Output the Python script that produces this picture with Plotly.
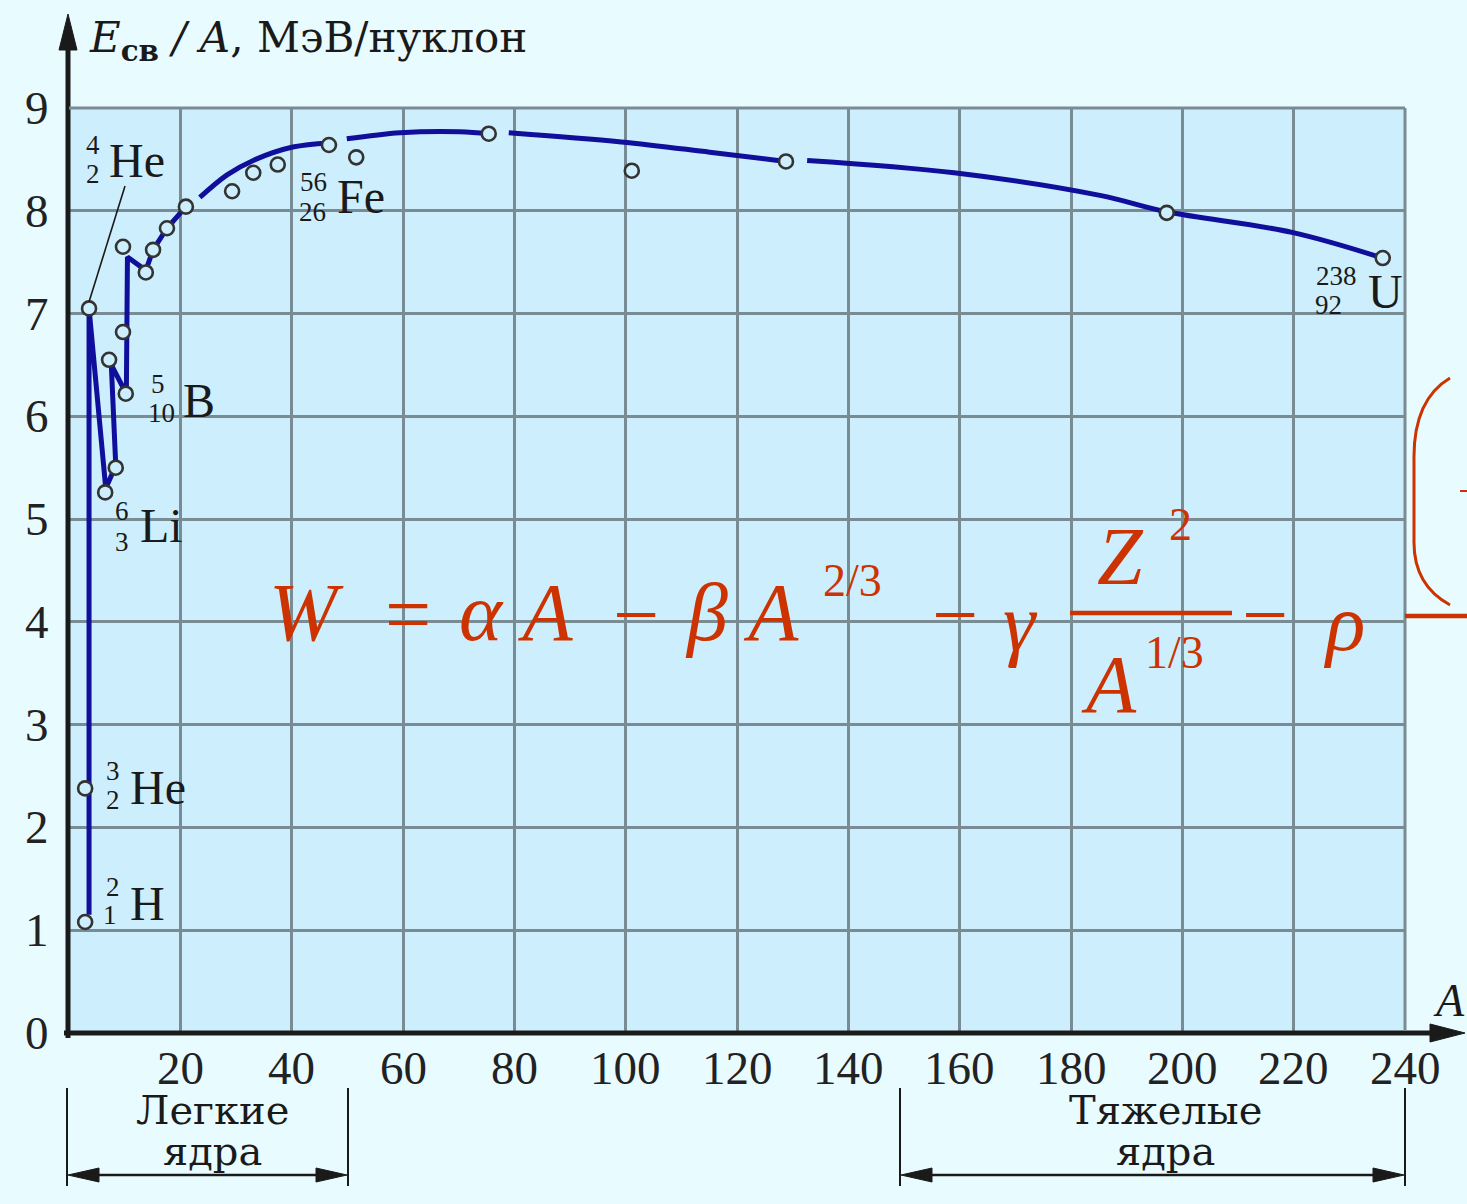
import plotly.graph_objects as go

# ---------------- data ----------------
# measured nuclei (open circles): mass number A, binding energy per nucleon (MeV)
point_A = [2.9, 2.9, 3.6, 6.5, 8.4, 7.2, 9.7, 10.2, 9.7, 13.8, 15.1, 17.6, 21.0,
           29.3, 33.1, 37.5, 46.7, 51.6, 75.4, 101.1, 128.8, 197.2, 236.0]
point_E = [1.08, 2.38, 7.05, 5.26, 5.50, 6.55, 6.82, 6.22, 7.65, 7.40, 7.62, 7.83, 8.04,
           8.19, 8.37, 8.45, 8.64, 8.52, 8.75, 8.39, 8.48, 7.98, 7.54]

# broken line through the light nuclei
light_A = [3.6, 3.6, 6.6, 8.4, 7.6, 10.3, 10.5, 13.8, 15.1, 17.6, 21.0]
light_E = [1.15, 7.05, 5.30, 5.52, 6.50, 6.22, 7.55, 7.42, 7.62, 7.83, 8.04]

# smooth curve (segments separated by None)
curve_A = [23.5, 28.4, 33.1, 40.2, 46.7, None,
           49.9, 59.5, 70.2, 75.4, None,
           79.0, 99.2, 115.1, 128.8, None,
           132.6, 159.0, 185.2, 197.2, 219.7, 236.0]
curve_E = [8.13, 8.35, 8.49, 8.62, 8.66, None,
           8.70, 8.76, 8.77, 8.75, None,
           8.76, 8.67, 8.57, 8.48, None,
           8.49, 8.37, 8.15, 7.99, 7.79, 7.54]

x_ticks = [20, 40, 60, 80, 100, 120, 140, 160, 180, 200, 220, 240]
y_ticks = [0, 1, 2, 3, 4, 5, 6, 7, 8, 9]

iso_mass = ["4", "5", "6", "3", "2", "56", "238"]
iso_z = ["2", "10", "3", "2", "1", "26", "92"]
iso_sym = ["He", "B", "Li", "He", "H", "Fe", "U"]

y_title = "<i>E</i><sub><b>св</b></sub> <i>/ A</i>, МэВ/нуклон"
x_title = "<i>A</i>"
light_label = ["Легкие", "ядра"]
heavy_label = ["Тяжелые", "ядра"]

# ---------------- layout helpers ----------------
W, H = 1467, 1204
L, T = 69, 108
PW, PH = 1336, 925


def X(px):
    return (px - L) / PW


def Y(py):
    return (T + PH - py) / PH


PAPER = "#E8FBFF"
PLOT = "#CDEEFC"
GRID = "#7a8c93"
BLUE = "#0f0f9c"
RED = "#CC3300"
SERIF = "Liberation Serif"
WIDE = "DejaVu Serif"
INK = "#1a1a1a"

fig = go.Figure()

fig.add_trace(go.Scatter(x=light_A, y=light_E, mode="lines",
                         line=dict(color=BLUE, width=5), hoverinfo="skip",
                         showlegend=False))
fig.add_trace(go.Scatter(x=curve_A, y=curve_E, mode="lines",
                         line=dict(color=BLUE, width=5, shape="spline", smoothing=1.0),
                         connectgaps=False, hoverinfo="skip", showlegend=False))
fig.add_trace(go.Scatter(x=point_A, y=point_E, mode="markers",
                         marker=dict(size=14, color=PLOT, symbol="circle",
                                     line=dict(color="#333333", width=2.6)),
                         showlegend=False))

shapes = []
annots = []


def line(x0, y0, x1, y1, color=INK, width=2):
    shapes.append(dict(type="line", xref="paper", yref="paper",
                       x0=X(x0), y0=Y(y0), x1=X(x1), y1=Y(y1),
                       line=dict(color=color, width=width), layer="above"))


def tri(pts, color=INK):
    d = "M " + " L ".join(f"{X(a)},{Y(b)}" for a, b in pts) + " Z"
    shapes.append(dict(type="path", xref="paper", yref="paper", path=d,
                       fillcolor=color, line=dict(color=color, width=1), layer="above"))


def text(s, px, py, size, xanchor="center", color=INK, family=SERIF):
    annots.append(dict(text=s, xref="paper", yref="paper", x=X(px), y=Y(py),
                       xanchor=xanchor, yanchor="middle", showarrow=False,
                       borderpad=0,
                       font=dict(family=family, size=size, color=color)))


# tick labels (placed from the tick value arrays through the axes)
for v in x_ticks:
    annots.append(dict(text=str(v), xref="x", yref="paper", x=v, y=Y(1068),
                       xanchor="center", yanchor="middle", showarrow=False,
                       borderpad=0,
                       font=dict(family=SERIF, size=47, color="#222")))
for v in y_ticks:
    annots.append(dict(text=str(v), xref="paper", yref="y", x=X(50), y=v,
                       xanchor="right", yanchor="middle", showarrow=False,
                       borderpad=0,
                       font=dict(family=SERIF, size=47, color="#222")))

# axes with arrows
line(68, 1038, 68, 40, width=5)
tri([(68, 14), (59, 50), (77, 50)])
line(64, 1033, 1440, 1033, width=5)
tri([(1465, 1033), (1430, 1024), (1430, 1042)])

# top/right border grid lines
line(69, 108, 1405, 108, color=GRID, width=3)
line(1405, 108, 1405, 1031, color=GRID, width=3)

# axis titles
text(y_title, 88, 40, 42, xanchor="left", family=WIDE)
text(x_title, 1466, 1000, 46, xanchor="right")

# isotope labels
num_pos = [((93, 145), (93, 174)), ((158, 384), (161, 413)), ((122, 511), (122, 542)),
           ((113, 771), (113, 800)), ((113, 887), (110, 915)), ((313, 182), (312, 212)),
           ((1336, 276), (1328, 305))]
sym_pos = [(108, 160), (182, 400), (139, 525), (129, 787), (129, 903), (336, 196), (1367, 291)]
for i in range(len(iso_sym)):
    (mx, my), (zx, zy) = num_pos[i]
    text(iso_mass[i], mx, my, 27)
    text(iso_z[i], zx, zy, 27)
    sx, sy = sym_pos[i]
    text(iso_sym[i], sx, sy, 48, xanchor="left")

# leader line for He-4
line(125, 186, 89, 302, width=1.6)

# light / heavy nuclei brackets
for (a, b, c), lab in (((67, 348, 212), light_label), ((900, 1405, 1165), heavy_label)):
    line(a, 1088, a, 1186, width=2)
    line(b, 1088, b, 1186, width=2)
    line(a + 20, 1175, b - 20, 1175, width=2.5)
    tri([(a + 1, 1175), (a + 32, 1168), (a + 32, 1182)])
    tri([(b - 1, 1175), (b - 32, 1168), (b - 32, 1182)])
    text(lab[0], c, 1110, 40, family=WIDE)
    text(lab[1], c, 1151, 40, family=WIDE)

# formula
FS = 82
text("<i>W</i>", 268, 612, FS, xanchor="left", color=RED)
text("=", 408, 614, FS, color=RED)
text("<i>α A</i>", 458, 612, FS, xanchor="left", color=RED)
text("−", 636, 614, FS, color=RED)
text("<i>β A</i>", 684, 612, FS, xanchor="left", color=RED)
text("2/3", 822, 580, 46, xanchor="left", color=RED)
text("−", 955, 614, FS, color=RED)
text("<i>γ</i>", 1002, 622, FS, xanchor="left", color=RED)
line(1070, 613, 1232, 613, color=RED, width=4.5)
text("<i>Z</i>", 1096, 556, FS, xanchor="left", color=RED)
text("2", 1168, 524, 46, xanchor="left", color=RED)
text("<i>A</i>", 1080, 684, FS, xanchor="left", color=RED)
text("1/3", 1144, 652, 46, xanchor="left", color=RED)
text("−", 1265, 614, FS, color=RED)
text("<i>ρ</i>", 1322, 622, FS, xanchor="left", color=RED)
line(1405, 616, 1470, 616, color=RED, width=4.5)
shapes.append(dict(type="path", xref="paper", yref="paper",
                   path=(f"M {X(1450)},{Y(378)} Q {X(1413)},{Y(400)} {X(1414)},{Y(460)} "
                         f"L {X(1414)},{Y(540)} Q {X(1413)},{Y(585)} {X(1450)},{Y(605)}"),
                   line=dict(color=RED, width=3), layer="above"))
line(1460, 491, 1467, 491, color=RED, width=2)

fig.update_layout(
    width=W, height=H,
    margin=dict(l=L, r=W - L - PW, t=T, b=H - T - PH, pad=0),
    paper_bgcolor=PAPER, plot_bgcolor=PLOT,
    shapes=shapes, annotations=annots,
    font=dict(family=SERIF, color=INK),
    xaxis=dict(range=[0, 240], tickvals=x_ticks, showticklabels=False,
               showgrid=True, gridcolor=GRID, gridwidth=3, zeroline=False,
               showline=False, ticks=""),
    yaxis=dict(range=[0, 9], tickvals=y_ticks, showticklabels=False,
               showgrid=True, gridcolor=GRID, gridwidth=3, zeroline=False,
               showline=False, ticks=""),
)

fig.write_html("out.html")
